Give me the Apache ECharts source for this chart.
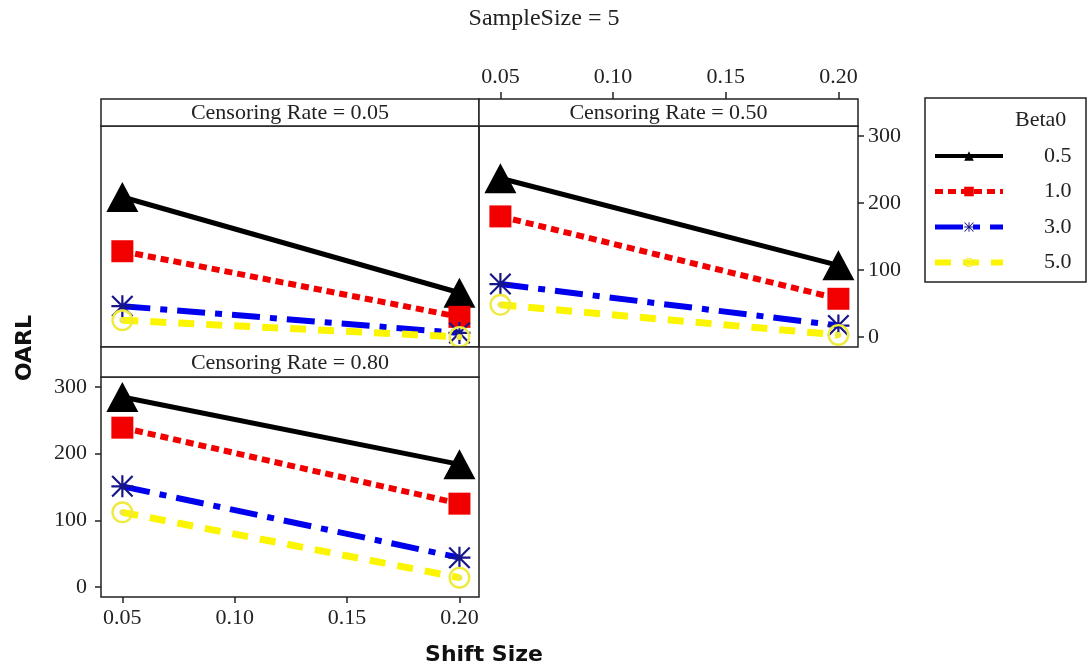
<!DOCTYPE html>
<html>
<head>
<meta charset="utf-8">
<script src="https://cdn.jsdelivr.net/npm/echarts@6/dist/echarts.min.js"></script>
<style>
  html, body { margin: 0; padding: 0; background: #fff; }
  #chart { width: 1092px; height: 666px; }
</style>
</head>
<body>
<div id="chart"></div>
<script>
// Shift sizes on the x axis
const shiftSizes = [0.05, 0.20];
// Panel (censoring rate) labels
const panelLabels = ['Censoring Rate = 0.05', 'Censoring Rate = 0.50', 'Censoring Rate = 0.80'];
// Beta0 levels (legend entries)
const betaLevels = ['0.5', '1.0', '3.0', '5.0'];
// Tick labels
const xTicks = [0.05, 0.10, 0.15, 0.20];
const yTicks = [0, 100, 200, 300];

// OARL per Beta0 level, values at shift 0.05 and 0.20
const oarlCR005 = [[209, 66], [128, 30], [46, 6], [25, 0]];
const oarlCR050 = [[237, 107], [180, 57], [79, 17], [48, 3]];
const oarlCR080 = [[285, 184], [239, 125], [151, 44], [112, 14]];

const panelData = [oarlCR005, oarlCR050, oarlCR080];

const SERIF = 'Liberation Serif';
const SANS = 'DejaVu Sans';
const TXT = '#222';
const FS = 22;

// asterisk marker: vertical, horizontal and two diagonal bars
const starPath = 'path://M9 0L11 0L11 20L9 20Z M0 9L20 9L20 11L0 11Z ' +
  'M1.4 0L20 18.6L18.6 20L0 1.4Z M18.6 0L20 1.4L1.4 20L0 18.6Z';
// ring with a centre dot
const ringDotPath = 'path://M10 0A10 10 0 1 1 10 20A10 10 0 1 1 10 0Z ' +
  'M10 2.2A7.8 7.8 0 1 0 10 17.8A7.8 7.8 0 1 0 10 2.2Z ' +
  'M10 7.3A2.7 2.7 0 1 1 10 12.7A2.7 2.7 0 1 1 10 7.3Z';

const seriesStyle = [
  { symbol: 'triangle', symbolSize: [32, 30], line: '#000000', item: '#000000', width: 5, type: 'solid' },
  { symbol: 'rect', symbolSize: 22, line: '#f20000', item: '#f20000', width: 6, type: [8, 5] },
  { symbol: starPath, symbolSize: 22, line: '#0000ee', item: '#16168a', width: 6, type: [28, 10, 7, 10] },
  { symbol: ringDotPath, symbolSize: 22, line: '#fbf500', item: '#eeea40', width: 7, type: [16, 12] }
];

// panel geometry
const grids = [
  { left: 101, top: 126, width: 378, height: 221 },
  { left: 479, top: 126, width: 379, height: 221 },
  { left: 101, top: 377, width: 378, height: 220 }
];
const strips = [
  { x: 101, y: 99, w: 378, h: 27 },
  { x: 479, y: 99, w: 379, h: 27 },
  { x: 101, y: 347, w: 378, h: 30 }
];

const X_MIN = 0.0405, X_MAX = 0.2087;
const Y_MIN = -15, Y_MAX = 315;

const axisLabelFont = { fontFamily: SERIF, fontSize: FS, color: TXT };
const tickStyle = { color: '#222', width: 1.5 };
const hiddenLine = { show: false, onZero: false };

const xAxes = [
  { gridIndex: 0, type: 'value', min: X_MIN, max: X_MAX, show: false, axisLine: hiddenLine },
  {
    gridIndex: 1, type: 'value', min: X_MIN, max: X_MAX, position: 'top', offset: 27,
    axisLine: hiddenLine, splitLine: { show: false },
    axisTick: { show: true, inside: false, length: 7, customValues: xTicks, lineStyle: tickStyle },
    axisLabel: Object.assign({ customValues: xTicks, margin: 11, formatter: v => v.toFixed(2) }, axisLabelFont)
  },
  {
    gridIndex: 2, type: 'value', min: X_MIN, max: X_MAX, position: 'bottom',
    axisLine: hiddenLine, splitLine: { show: false },
    axisTick: { show: true, inside: false, length: 6, customValues: xTicks, lineStyle: tickStyle },
    axisLabel: Object.assign({ customValues: xTicks, margin: 10, formatter: v => v.toFixed(2) }, axisLabelFont)
  }
];
const yAxes = [
  { gridIndex: 0, type: 'value', min: Y_MIN, max: Y_MAX, show: false, axisLine: hiddenLine },
  {
    gridIndex: 1, type: 'value', min: Y_MIN, max: Y_MAX, position: 'right',
    axisLine: hiddenLine, splitLine: { show: false },
    axisTick: { show: true, inside: false, length: 6, customValues: yTicks, lineStyle: tickStyle },
    axisLabel: Object.assign({ customValues: yTicks, margin: 10 }, axisLabelFont)
  },
  {
    gridIndex: 2, type: 'value', min: Y_MIN, max: Y_MAX, position: 'left',
    axisLine: hiddenLine, splitLine: { show: false },
    axisTick: { show: true, inside: false, length: 6, customValues: yTicks, lineStyle: tickStyle },
    axisLabel: Object.assign({ customValues: yTicks, margin: 14 }, axisLabelFont)
  }
];

const series = [];
panelData.forEach((panel, p) => {
  panel.forEach((vals, b) => {
    const s = seriesStyle[b];
    series.push({
      name: betaLevels[b],
      type: 'line',
      xAxisIndex: p,
      yAxisIndex: p,
      data: shiftSizes.map((x, i) => [x, vals[i]]),
      symbol: s.symbol,
      symbolSize: s.symbolSize,
      showAllSymbol: true,
      clip: false,
      animation: false,
      itemStyle: { color: s.item, borderWidth: 0 },
      lineStyle: { color: s.line, width: s.width, type: s.type, cap: 'butt' },
      emphasis: { disabled: true }
    });
  });
});

const graphics = [];
strips.forEach((st, i) => {
  graphics.push({
    type: 'rect', z: 10,
    shape: { x: st.x, y: st.y, width: st.w, height: st.h },
    style: { fill: '#fff', stroke: '#222', lineWidth: 1.5 }
  });
  graphics.push({
    type: 'text', z: 11,
    x: st.x + st.w / 2, y: st.y + st.h / 2 + 1,
    style: { text: panelLabels[i], align: 'center', verticalAlign: 'middle',
      font: FS + 'px "' + SERIF + '"', fill: TXT }
  });
});
// figure title
graphics.push({
  type: 'text', x: 544, y: 19,
  style: { text: 'SampleSize = 5', align: 'center', verticalAlign: 'middle',
    font: '24px "' + SERIF + '"', fill: TXT }
});
// axis titles
graphics.push({
  type: 'text', x: 25, y: 348, rotation: Math.PI / 2,
  style: { text: 'OARL', align: 'center', verticalAlign: 'middle',
    font: 'bold 22px "' + SANS + '"', fill: '#111' }
});
graphics.push({
  type: 'text', x: 484, y: 655,
  style: { text: 'Shift Size', align: 'center', verticalAlign: 'middle',
    font: 'bold 22px "' + SANS + '"', fill: '#111' }
});
// legend frame and heading
graphics.push({
  type: 'rect', z: 0,
  shape: { x: 925, y: 98, width: 161, height: 184 },
  style: { fill: '#fff', stroke: '#222', lineWidth: 1.5 }
});
graphics.push({
  type: 'text', x: 1015, y: 120,
  style: { text: 'Beta0', align: 'left', verticalAlign: 'middle',
    font: FS + 'px "' + SERIF + '"', fill: TXT }
});

const option = {
  backgroundColor: '#fff',
  animation: false,
  grid: grids.map(g => Object.assign({
    show: true, borderColor: '#222', borderWidth: 1.5, backgroundColor: 'transparent',
    containLabel: false, outerBoundsMode: 'none'
  }, g)),
  xAxis: xAxes,
  yAxis: yAxes,
  legend: {
    data: betaLevels.map((name, b) => ({
      name: name,
      lineStyle: { width: seriesStyle[b].width - 1 }
    })),
    orient: 'vertical',
    left: 932,
    top: 145,
    padding: 0,
    itemWidth: 68,
    itemHeight: 12,
    itemGap: 13.5,
    selectedMode: false,
    textStyle: { fontFamily: SERIF, fontSize: FS, color: TXT, lineHeight: 22, padding: [0, 0, 0, 36] }
  },
  graphic: graphics,
  series: series
};

const chart = echarts.init(document.getElementById('chart'), null, { renderer: 'canvas' });
chart.setOption(option);
</script>
</body>
</html>
